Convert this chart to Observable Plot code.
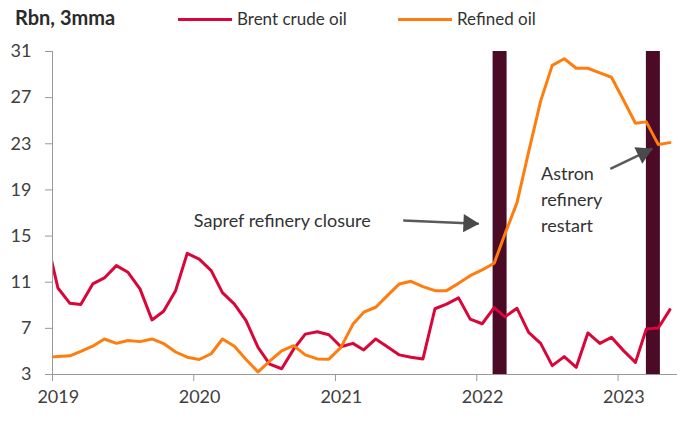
<!DOCTYPE html>
<html><head><meta charset="utf-8">
<script src="https://cdn.jsdelivr.net/npm/d3@7"></script>
<script src="https://cdn.jsdelivr.net/npm/@observablehq/plot@0.6"></script>
<style>
body{margin:0;background:#fff;font-family:Lato, sans-serif;}
#wrap{position:relative;width:696px;height:423px;overflow:hidden;}
#legend{position:absolute;left:0;top:0;width:696px;height:38px;color:#333;}
#legend .t{position:absolute;top:8px;font-size:17px;line-height:22px;white-space:nowrap;}
#legend .title{font-weight:bold;font-size:20px;top:6px;color:#2b2b2b;}
#legend .sw{position:absolute;top:18px;width:54px;height:3px;}
#chart{position:absolute;left:0;top:38px;}
</style></head><body>
<div id="wrap">
  <div id="legend"></div>
  <div id="chart"></div>
</div>
<script>
// ---- data (monthly, 3-month moving average, Rbn) ----
const firstMonth = "2018-12";
const brentCrude = [
  15.0,
  10.5, 9.17, 9.06, 10.85, 11.37, 12.44, 11.86, 10.42, 7.73, 8.48, 10.27, 13.5,
  13.0, 12.0, 10.1, 9.1, 7.67, 5.35, 3.9, 3.5, 5.2, 6.5, 6.7, 6.45,
  5.4, 5.7, 5.13, 6.08, 5.4, 4.7, 4.5, 4.35, 8.7, 9.1, 9.64, 7.8,
  7.4, 8.8, 8.0, 8.74, 6.66, 5.7, 3.77, 4.55, 3.62, 6.6, 5.7, 6.22,
  5.07, 4.05, 6.95, 7.03, 8.62
];
const refinedOil = [
  4.5,
  4.55, 4.62, 5.0, 5.45, 6.08, 5.7, 5.95, 5.85, 6.08, 5.68, 4.95, 4.5,
  4.3, 4.8, 6.08, 5.45, 4.3, 3.22, 4.15, 5.05, 5.5, 4.7, 4.35, 4.33,
  5.35, 7.35, 8.4, 8.83, 9.84, 10.85, 11.08, 10.62, 10.27, 10.27, 10.9, 11.57,
  12.07, 12.64, 15.2, 17.9, 22.3, 26.7, 29.8, 30.37, 29.55, 29.55, 29.15, 28.77,
  26.8, 24.78, 24.9, 22.93, 23.1
];
const seriesNames = ["Brent crude oil", "Refined oil"];
const seriesColors = ["#d90639", "#ff7d0f"];
const yearLabels = [2019, 2020, 2021, 2022, 2023];
const yTickValues = [3, 7, 11, 15, 19, 23, 27, 31];
const xDomain = ["2019-01-01", "2023-06-01"];
const eventDates = ["2022-03-01", "2023-04-01"];
const noteTexts = ["Sapref refinery closure", "Astron\nrefinery\nrestart"];
const noteDates = ["2020-01-01", "2022-06-16"];
const noteValues = [16.52, 18.36];
const arrowFrom = [["2021-06-25", 16.34], ["2022-12-12", 20.83]];
const arrowTo = [["2022-01-06", 16.06], ["2023-03-30", 22.56]];
const titleText = "Rbn, 3mma";

// ---- build tables ----
const [fy, fm] = firstMonth.split("-").map(Number);
const monthDate = i => new Date(Date.UTC(fy, fm - 1 + i, 15));
const rows = [];
[brentCrude, refinedOil].forEach((arr, s) => arr.forEach((v, i) => rows.push({date: monthDate(i), value: v, series: seriesNames[s]})));
const d = s => new Date(s + "T00:00:00Z");
const arrows = arrowFrom.map((f, i) => ({x1: d(f[0]), y1: f[1], x2: d(arrowTo[i][0]), y2: arrowTo[i][1]}));

// ---- legend ----
const leg = document.getElementById("legend");
leg.innerHTML = `<span class="t title" style="left:15px">${titleText}</span>
<span class="sw" style="left:178px;background:${seriesColors[0]}"></span>
<span class="t" style="left:237px">${seriesNames[0]}</span>
<span class="sw" style="left:398px;background:${seriesColors[1]}"></span>
<span class="t" style="left:457px">${seriesNames[1]}</span>`;

const axisColor = "#999";
const textColor = "#404040";
const arrowColor = "#4a4a4a";

const base = {
  width: 696,
  height: 385,
  marginTop: 13,
  marginBottom: 49,
  marginLeft: 52,
  marginRight: 20,
  style: {fontFamily: "Lato, sans-serif", fontSize: "18px", color: textColor, background: "#fff"},
  x: {type: "utc", domain: xDomain.map(d)},
  y: {domain: [yTickValues[0], yTickValues[yTickValues.length - 1]]},
  color: {domain: seriesNames, range: seriesColors}
};

// probe pass to get pixel geometry for the filled arrow heads
const probe = Plot.plot({...base, marks: [Plot.frame()]});
const sx = probe.scale("x"), sy = probe.scale("y");
const headLen = 15;
const headMarks = arrows.map(a => {
  const px1 = sx.apply(a.x1), py1 = sy.apply(a.y1), px2 = sx.apply(a.x2), py2 = sy.apply(a.y2);
  const len = Math.hypot(px2 - px1, py2 - py1);
  const ux = (px2 - px1) / len, uy = (py2 - py1) / len;
  const angle = Math.atan2(ux, -uy) * 180 / Math.PI;
  const back = headLen * 2 / 3;
  return Plot.dot([a], {x: "x2", y: "y2", symbol: "triangle", r: 6.8, rotate: angle,
    dx: -ux * back, dy: -uy * back, fill: arrowColor, stroke: "none"});
});

const chart = Plot.plot({
  ...base,
  marks: [
    Plot.ruleX(eventDates.map(d), {stroke: "#4b0b27", strokeWidth: 14}),
    Plot.lineY(rows, {x: "date", y: "value", z: "series", stroke: "series", strokeWidth: 3, clip: true}),
    Plot.axisY({ticks: yTickValues, tickSize: 7, tickPadding: 14, label: null, stroke: axisColor, fill: textColor, fontSize: 18}),
    Plot.axisX({ticks: yearLabels.map(y => new Date(Date.UTC(y, 0, 1))), tickSize: 7, tickFormat: () => "", label: null, stroke: axisColor}),
    Plot.axisX({ticks: yearLabels.map(y => new Date(Date.UTC(y, 0, 16))), tickSize: 0, tickPadding: 16, tickFormat: "%Y", label: null, fill: textColor, fontSize: 18}),
    Plot.frame({anchor: "left", stroke: axisColor}),
    Plot.frame({anchor: "bottom", stroke: axisColor}),
    Plot.text(noteTexts.map((t, i) => ({t, x: d(noteDates[i]), y: noteValues[i]})),
      {x: "x", y: "y", text: "t", textAnchor: "start", fontSize: 18, lineHeight: 1.44, fill: "#333"}),
    Plot.link(arrows, {x1: "x1", y1: "y1", x2: "x2", y2: "y2", stroke: "#5a5a5a", strokeWidth: 2.5, insetEnd: 6}),
    ...headMarks
  ]
});
document.getElementById("chart").appendChild(chart);
</script>
</body></html>
